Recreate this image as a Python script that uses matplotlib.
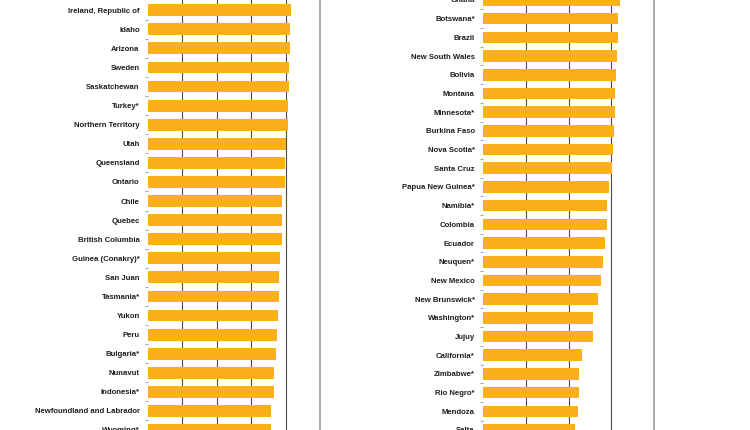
import numpy as np
import matplotlib
matplotlib.use("Agg")
import matplotlib.pyplot as plt
from matplotlib.ticker import FixedLocator

# datos del panel izquierdo (escala 0-100)
left_names = ['Ireland, Republic of', 'Idaho', 'Arizona', 'Sweden', 'Saskatchewan',
              'Turkey*', 'Northern Territory', 'Utah', 'Queensland', 'Ontario',
              'Chile', 'Quebec', 'British Columbia', 'Guinea (Conakry)*', 'San Juan',
              'Tasmania*', 'Yukon', 'Peru', 'Bulgaria*', 'Nunavut', 'Indonesia*',
              'Newfoundland and Labrador', 'Wyoming*']
left_values = [83.1, 82.8, 82.4, 82.0, 81.8, 81.4, 81.4, 80.4, 79.7, 79.6,
               77.9, 77.7, 77.7, 76.7, 76.4, 76.0, 75.6, 75.2, 74.4, 73.3,
               73.3, 71.7, 71.5]

# datos del panel derecho (escala 0-100)
right_names = ['Ghana', 'Botswana*', 'Brazil', 'New South Wales', 'Bolivia', 'Montana',
               'Minnesota*', 'Burkina Faso', 'Nova Scotia*', 'Santa Cruz',
               'Papua New Guinea*', 'Namibia*', 'Colombia', 'Ecuador', 'Neuquen*',
               'New Mexico', 'New Brunswick*', 'Washington*', 'Jujuy', 'California*',
               'Zimbabwe*', 'Rio Negro*', 'Mendoza', 'Salta']
right_values = [80.1, 79.1, 78.9, 78.4, 77.8, 77.4, 77.0, 76.4, 76.1, 75.4,
                73.7, 72.7, 72.5, 71.2, 70.2, 68.8, 67.1, 64.3, 64.1, 57.9,
                56.0, 56.0, 55.6, 54.0]

BAR_COLOR = '#FBB01A'
W, H = 750, 430

plt.rcParams['font.family'] = ['Liberation Sans', 'DejaVu Sans']

fig = plt.figure(figsize=(7.5, 4.3), dpi=100)


#Dibuja un panel: x0,x1 en pixeles, c0 = centro de la primera barra, step = separacion
def panel(x0, x1, names, values, c0, step, grid):
    ax = fig.add_axes([x0 / W, 0, (x1 - x0) / W, 1])
    pos = np.arange(len(names))
    ax.barh(pos, values, height=0.62, color=BAR_COLOR, zorder=3)
    ax.set_xlim(0, 100)
    top = (0 - c0) / step
    bottom = (H - c0) / step
    ax.set_ylim(bottom, top)
    for g in grid:
        ax.axvline(g, color='#4a4a4a', lw=0.8, zorder=1)
    ax.set_yticks(pos)
    ax.set_yticklabels(names, fontsize=5.6, fontweight='bold', color='#1e1e1e')
    ax.tick_params(axis='y', which='major', length=0, pad=6)
    ax.yaxis.set_minor_locator(FixedLocator(pos[:-1] + 0.5))
    ax.tick_params(axis='y', which='minor', length=2, width=0.7, color='#8fa6c0')
    ax.set_xticks([])
    for s in ['top', 'bottom', 'left']:
        ax.spines[s].set_visible(False)
    ax.spines['right'].set_color('#aaaaaa')
    ax.spines['right'].set_linewidth(1.4)
    return ax


panel(148, 320, left_names, left_values, 10.2, 19.13, [20, 40, 60, 80])
panel(483, 654, right_names, right_values, 13.8 - 19.07, 19.07, [25, 50, 75])

fig.savefig('out.png', dpi=100)
